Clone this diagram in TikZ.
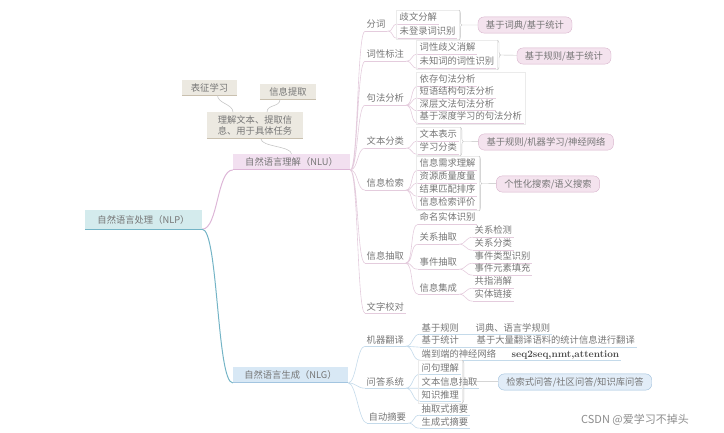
\documentclass[tikz,border=0pt]{standalone}
\usepackage{fontspec}
\newfontfamily\zh{Noto Sans CJK SC}
\usetikzlibrary{fit,decorations.pathreplacing}
\definecolor{txt}{HTML}{767676}
\definecolor{pkln}{HTML}{E4CCDD}
\definecolor{blln}{HTML}{C4DAEA}
\definecolor{rootf}{HTML}{D4EBED}
\definecolor{rootl}{HTML}{74B4C6}
\definecolor{nluf}{HTML}{F2E0F0}
\definecolor{nlul}{HTML}{DDB6D7}
\definecolor{nlgf}{HTML}{D8E8F5}
\definecolor{nlgl}{HTML}{A3C5E0}
\definecolor{begf}{HTML}{ECE9E1}
\definecolor{begl}{HTML}{C9C0AF}
\definecolor{sumf}{HTML}{F4E3EE}
\definecolor{suml}{HTML}{D8B3CC}
\definecolor{qaf}{HTML}{E2EDF8}
\definecolor{qal}{HTML}{9EBFDB}
\tikzset{cn/.style={font=\zh\fontsize{9.3}{11}\selectfont,text=txt},
 box/.style 2 args={cn,fill=#1,minimum height=13pt,inner xsep=5pt,
  append after command={(\tikzlastnode.south west) edge[draw=#2,line width=1pt] (\tikzlastnode.south east)}},
 topic/.style={cn,anchor=west,inner xsep=1.5pt,inner ysep=1.5pt,text height=7.5pt,text depth=1.5pt,
  append after command={(\tikzlastnode.south west) edge[draw=#1,line width=.6pt] (\tikzlastnode.south east)}},
 topic/.default=pkln,
 summ/.style 2 args={cn,draw=#2,fill=#1,rounded corners=6pt,minimum height=13pt,inner xsep=8pt},
 grp/.style={draw=black!8,inner sep=1.5pt},
 brk/.style={draw=black!25,decorate,decoration={brace,amplitude=3pt}},
 link/.style={draw=#1,line width=.6pt,to path={.. controls +(8,0) and +(-8,0) .. (\tikztotarget)}},
 link/.default=pkln,
 trunk/.style={draw=#1,line width=1pt,to path={.. controls +(16,0) and +(-16,0) .. (\tikztotarget)}},
 vlink/.style={draw=black!22,line width=.6pt,to path={.. controls +(0,-8) and +(0,8) .. (\tikztotarget)}}}
\begin{document}
\begin{tikzpicture}[x=1pt,y=-1pt]
\useasboundingbox (0,0) rectangle (724,433);
\node[box={rootf}{rootl},minimum width=117pt,minimum height=19pt](nlp) at(143.5,219.5){自然语言处理（NLP）};
\node[box={nluf}{nlul},minimum width=117pt](nlu) at(291.5,162){自然语言理解（NLU）};
\node[box={nlgf}{nlgl},minimum width=115pt,minimum height=14pt](nlg) at(290.5,375){自然语言生成（NLG）};
\node[box={begf}{begl},minimum width=96pt,align=center,minimum height=23pt](und) at(255,125.5){理解文本、提取信\\息、用于具体任务};
\node[box={begf}{begl},minimum width=55pt](rep) at(209.5,87.5){表征学习};
\node[box={begf}{begl},minimum width=56pt](ext) at(288,91.5){信息提取};
\draw[vlink](nlu.north) to ([xshift=6pt]und.south) ([xshift=-22pt]und.north) to ([xshift=8pt]rep.south)
 ([xshift=12pt]und.north) to ([xshift=-8pt]ext.south);
\draw[trunk=nlul](nlp.south east) to (nlu.south west);
\draw[trunk=rootl](nlp.south east) to (nlg.south west);
\node[topic](fc) at(365,25){分词};
\node[topic](cx) at(365,55){词性标注};
\node[topic](jf) at(365,99){句法分析};
\node[topic](wf) at(365,142){文本分类};
\node[topic](xj) at(365,184){信息检索};
\node[topic](xc) at(365,257){信息抽取};
\node[topic](wj) at(365,307){文字校对};
\node[topic](fc1) at(398,18){歧文分解};\node[topic](fc2) at(398,32){未登录词识别};
\node[topic](cx1) at(418,48){词性歧义消解};\node[topic](cx2) at(418,62){未知词的词性识别};
\node[topic](jf1) at(418,80){依存句法分析};\node[topic](jf2) at(418,92){短语结构句法分析};
\node[topic](jf3) at(418,104.5){深层文法句法分析};\node[topic](jf4) at(418,117){基于深度学习的句法分析};
\node[topic](wf1) at(418,135){文本表示};\node[topic](wf2) at(418,148){学习分类};
\node[topic](xj1) at(418,164){信息需求理解};\node[topic](xj2) at(418,177){资源质量度量};
\node[topic](xj3) at(418,190){结果匹配排序};\node[topic](xj4) at(418,203){信息检索评价};
\node[topic](xc1) at(418,218){命名实体识别};\node[topic](xc2) at(418,238){关系抽取};
\node[topic](xc3) at(418,263){事件抽取};\node[topic](xc4) at(418,288){信息集成};
\node[topic](xc2a) at(473,231){关系检测};\node[topic](xc2b) at(473,244){关系分类};
\node[topic](xc3a) at(473,257){事件类型识别};\node[topic](xc3b) at(473,269){事件元素填充};
\node[topic](xc4a) at(473,282){共指消解};\node[topic](xc4b) at(473,295){实体链接};
\draw[link](nlu.south east) to (fc.south west) (nlu.south east) to (cx.south west) (nlu.south east) to (jf.south west)
 (nlu.south east) to (wf.south west) (nlu.south east) to (xj.south west) (nlu.south east) to (xc.south west)
 (nlu.south east) to (wj.south west);
\draw[link](fc.south east) to (fc1.south west) (fc.south east) to (fc2.south west)
 (cx.south east) to (cx1.south west) (cx.south east) to (cx2.south west)
 (jf.south east) to (jf1.south west) (jf.south east) to (jf2.south west) (jf.south east) to (jf3.south west) (jf.south east) to (jf4.south west)
 (wf.south east) to (wf1.south west) (wf.south east) to (wf2.south west)
 (xj.south east) to (xj1.south west) (xj.south east) to (xj2.south west) (xj.south east) to (xj3.south west) (xj.south east) to (xj4.south west)
 (xc.south east) to (xc1.south west) (xc.south east) to (xc2.south west) (xc.south east) to (xc3.south west) (xc.south east) to (xc4.south west)
 (xc2.south east) to (xc2a.south west) (xc2.south east) to (xc2b.south west) (xc3.south east) to (xc3a.south west)
 (xc3.south east) to (xc3b.south west) (xc4.south east) to (xc4a.south west) (xc4.south east) to (xc4b.south west);
\node[grp,fit=(fc1)(fc2)](gfc){};\node[grp,fit=(cx1)(cx2)](gcx){};\node[grp,fit=(jf1)(jf4)](gjf){};
\node[grp,fit=(wf1)(wf2)](gwf){};\node[grp,fit=(xj1)(xj4)](gxj){};
\draw[brk](gfc.north east)--(gfc.south east);\draw[brk](gcx.north east)--(gcx.south east);
\draw[brk](gwf.north east)--(gwf.south east);\draw[brk](gxj.north east)--(gxj.south east);
\node[summ={sumf}{suml}](sfc) at(525,25){基于词典/基于统计};
\node[summ={sumf}{suml}](scx) at(564,56){基于规则/基于统计};
\node[summ={sumf}{suml}](swf) at(546,142){基于规则/机器学习/神经网络};
\node[summ={sumf}{suml}](sxj) at(548,184){个性化搜索/语义搜索};
\draw[black!25]([xshift=3pt]gfc.east)--(sfc)([xshift=3pt]gcx.east)--(scx)([xshift=3pt]gwf.east)--(swf)([xshift=3pt]gxj.east)--(sxj);
\node[topic=blln](mf) at(365,340){机器翻译};
\node[topic=blln](wd) at(365,382){问答系统};
\node[topic=blln](zd) at(367,417){自动摘要};
\node[topic=blln](mf1) at(420,328){基于规则};\node[topic=blln](mf1x) at(474,328){词典、语言学规则};
\node[topic=blln](mf2) at(420,341){基于统计};\node[topic=blln](mf2x) at(475,341){基于大量翻译语料的统计信息进行翻译};
\node[topic=blln](mf3) at(420,354){端到端的神经网络};
\node[topic=blln,font=\fontsize{9.8}{12}\selectfont\bfseries,text=black!70](mf3x) at(510,354){seq2seq,nmt,attention};
\node[topic=blln](wd1) at(420,368){问句理解};\node[topic=blln](wd2) at(420,382){文本信息抽取};
\node[topic=blln](wd3) at(420,395){知识推理};
\node[topic=blln](zd1) at(420,409){抽取式摘要};\node[topic=blln](zd2) at(420,422){生成式摘要};
\draw[link=blln](nlg.south east) to (mf.south west) (nlg.south east) to (wd.south west) (nlg.south east) to (zd.south west)
 (mf.south east) to (mf1.south west) (mf.south east) to (mf2.south west) (mf.south east) to (mf3.south west)
 (wd.south east) to (wd1.south west) (wd.south east) to (wd2.south west) (wd.south east) to (wd3.south west)
 (zd.south east) to (zd1.south west) (zd.south east) to (zd2.south west);
\draw[blln,line width=.6pt](mf1.south east)--(mf1x.south west)(mf2.south east)--(mf2x.south west)(mf3.south east)--(mf3x.south west);
\node[grp,fit=(wd1)(wd3)](gwd){};
\draw[brk](gwd.north east)--(gwd.south east);
\node[summ={qaf}{qal}](swd) at(575,382){检索式问答/社区问答/知识库问答};
\draw[black!25]([xshift=3pt]gwd.east)--(swd);
\node[font=\zh\fontsize{11}{13}\selectfont,text=black!45](wm) at(635,420){CSDN @爱学习不掉头};
\end{tikzpicture}
\end{document}
